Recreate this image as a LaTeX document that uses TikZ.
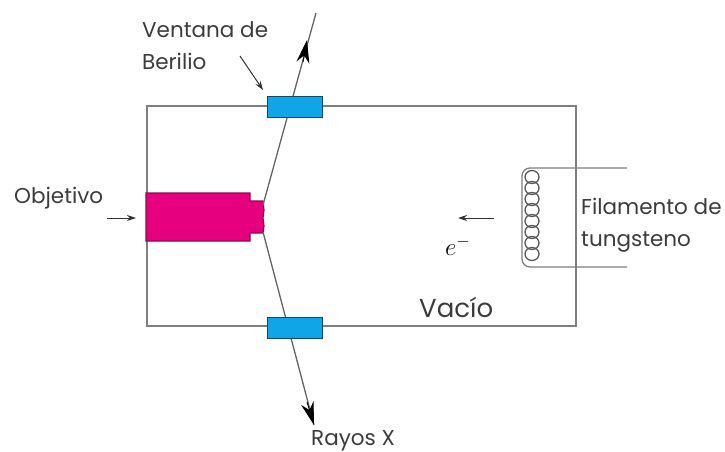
\documentclass[tikz,border=0pt]{standalone}
\usepackage{fontspec}
\setmainfont{Poppins}
\usepackage{xcolor}
\usepackage{tikz}
\usetikzlibrary{arrows.meta,positioning}
\definecolor{tubegray}{HTML}{7F7F7F}
\definecolor{labelgray}{HTML}{3C3C3C}
\definecolor{targetpink}{HTML}{E6007E}
\definecolor{targetedge}{HTML}{8C0A52}
\definecolor{windowblue}{HTML}{0FA5E6}
\definecolor{windowedge}{HTML}{0C4A66}

\tikzset{
  tubeline/.style={tubegray,line width=1.5pt},
  windowbox/.style={draw=windowedge,fill=windowblue,line width=1.3pt,minimum width=55pt,minimum height=21pt,inner sep=0pt},
  rayline/.style={tubegray!80!black,line width=1.3pt},
  pointer/.style={-{Stealth[length=9pt,width=6pt]},black!80,line width=1pt},
  rayhead/.style={-{Stealth[length=23pt,width=13pt]},black,line width=0.9pt},
  lab/.style={labelgray,font=\fontsize{21.5}{32}\selectfont,inner sep=0pt},
}

\begin{document}
\begin{tikzpicture}[x=1pt,y=-1pt]
  \useasboundingbox (0,0) rectangle (725,452);
  \fill[white] (0,0) rectangle (725,452);
  % tube
  \draw[tubeline] (147,106) rectangle (576,326);
  % filament
  \coordinate (leadtop) at (627,168);
  \coordinate (leadbot) at (627,267);
  \draw[tubegray,line width=1.3pt] (leadtop) -- (530,168) to[out=180,in=90] (522,176) -- (522,259) to[out=-90,in=180] (530,267) -- (leadbot);
  \foreach \y in {177,188,199,210,221,232,243,254} {
    \draw[tubegray!70!black,line width=1.3pt] (532,\y) ellipse (7pt and 6.5pt);
  }
  % target
  \draw[targetedge,fill=targetpink,line width=1.2pt] (146,193) -- (250,193) -- (250,201) -- (263,201) -- (264,210) -- (263,218) -- (264,226) -- (263,233) -- (250,233) -- (250,241) -- (146,241) -- cycle;
  % rays
  \coordinate (raystarta) at (263,205);
  \coordinate (raystartb) at (263,232);
  \coordinate (rayheada) at (307,40);
  \coordinate (rayenda) at (316,13);
  \coordinate (rayendb) at (314,425);
  \draw[rayline] (raystarta) -- (rayenda);
  \draw[rayline] (raystartb) -- (rayendb);
  \draw[rayhead] (303,62) -- (rayheada);
  \draw[rayhead] (307,402) -- (rayendb);
  % windows
  \node[windowbox] (wintop) at (295,107) {};
  \node[windowbox] (winbot) at (295,328) {};
  % labels
  \node[lab,align=left,anchor=north west] (ventana) at (142,21) {Ventana de\\Berilio};
  \node[lab,anchor=west] (objetivo) at (14,198) {Objetivo};
  \node[lab,anchor=west,align=left] (filamento) at (581,225) {Filamento de\\tungsteno};
  \node[lab,anchor=west,font=\fontsize{26}{30}\selectfont] (vacio) at (419,307) {Vacío};
  \node[lab,anchor=west,text=black,font=\fontsize{27}{30}\selectfont] (elec) at (445,246) {$e^{-}$};
  \node[lab,anchor=west] (rayos) at (311,441) {Rayos X};
  % pointers
  \coordinate (ptrobjfrom) at (107,218);
  \coordinate (ptrobjto) at (136,218);
  \coordinate (ptrwinfrom) at (240,56);
  \coordinate (ptrwinto) at (263,90);
  \coordinate (ptrelecfrom) at (494,218);
  \coordinate (ptrelecto) at (458,218);
  \draw[pointer] (ptrobjfrom) -- (ptrobjto);
  \draw[pointer] (ptrwinfrom) -- (ptrwinto);
  \draw[pointer] (ptrelecfrom) -- (ptrelecto);
\end{tikzpicture}
\end{document}
